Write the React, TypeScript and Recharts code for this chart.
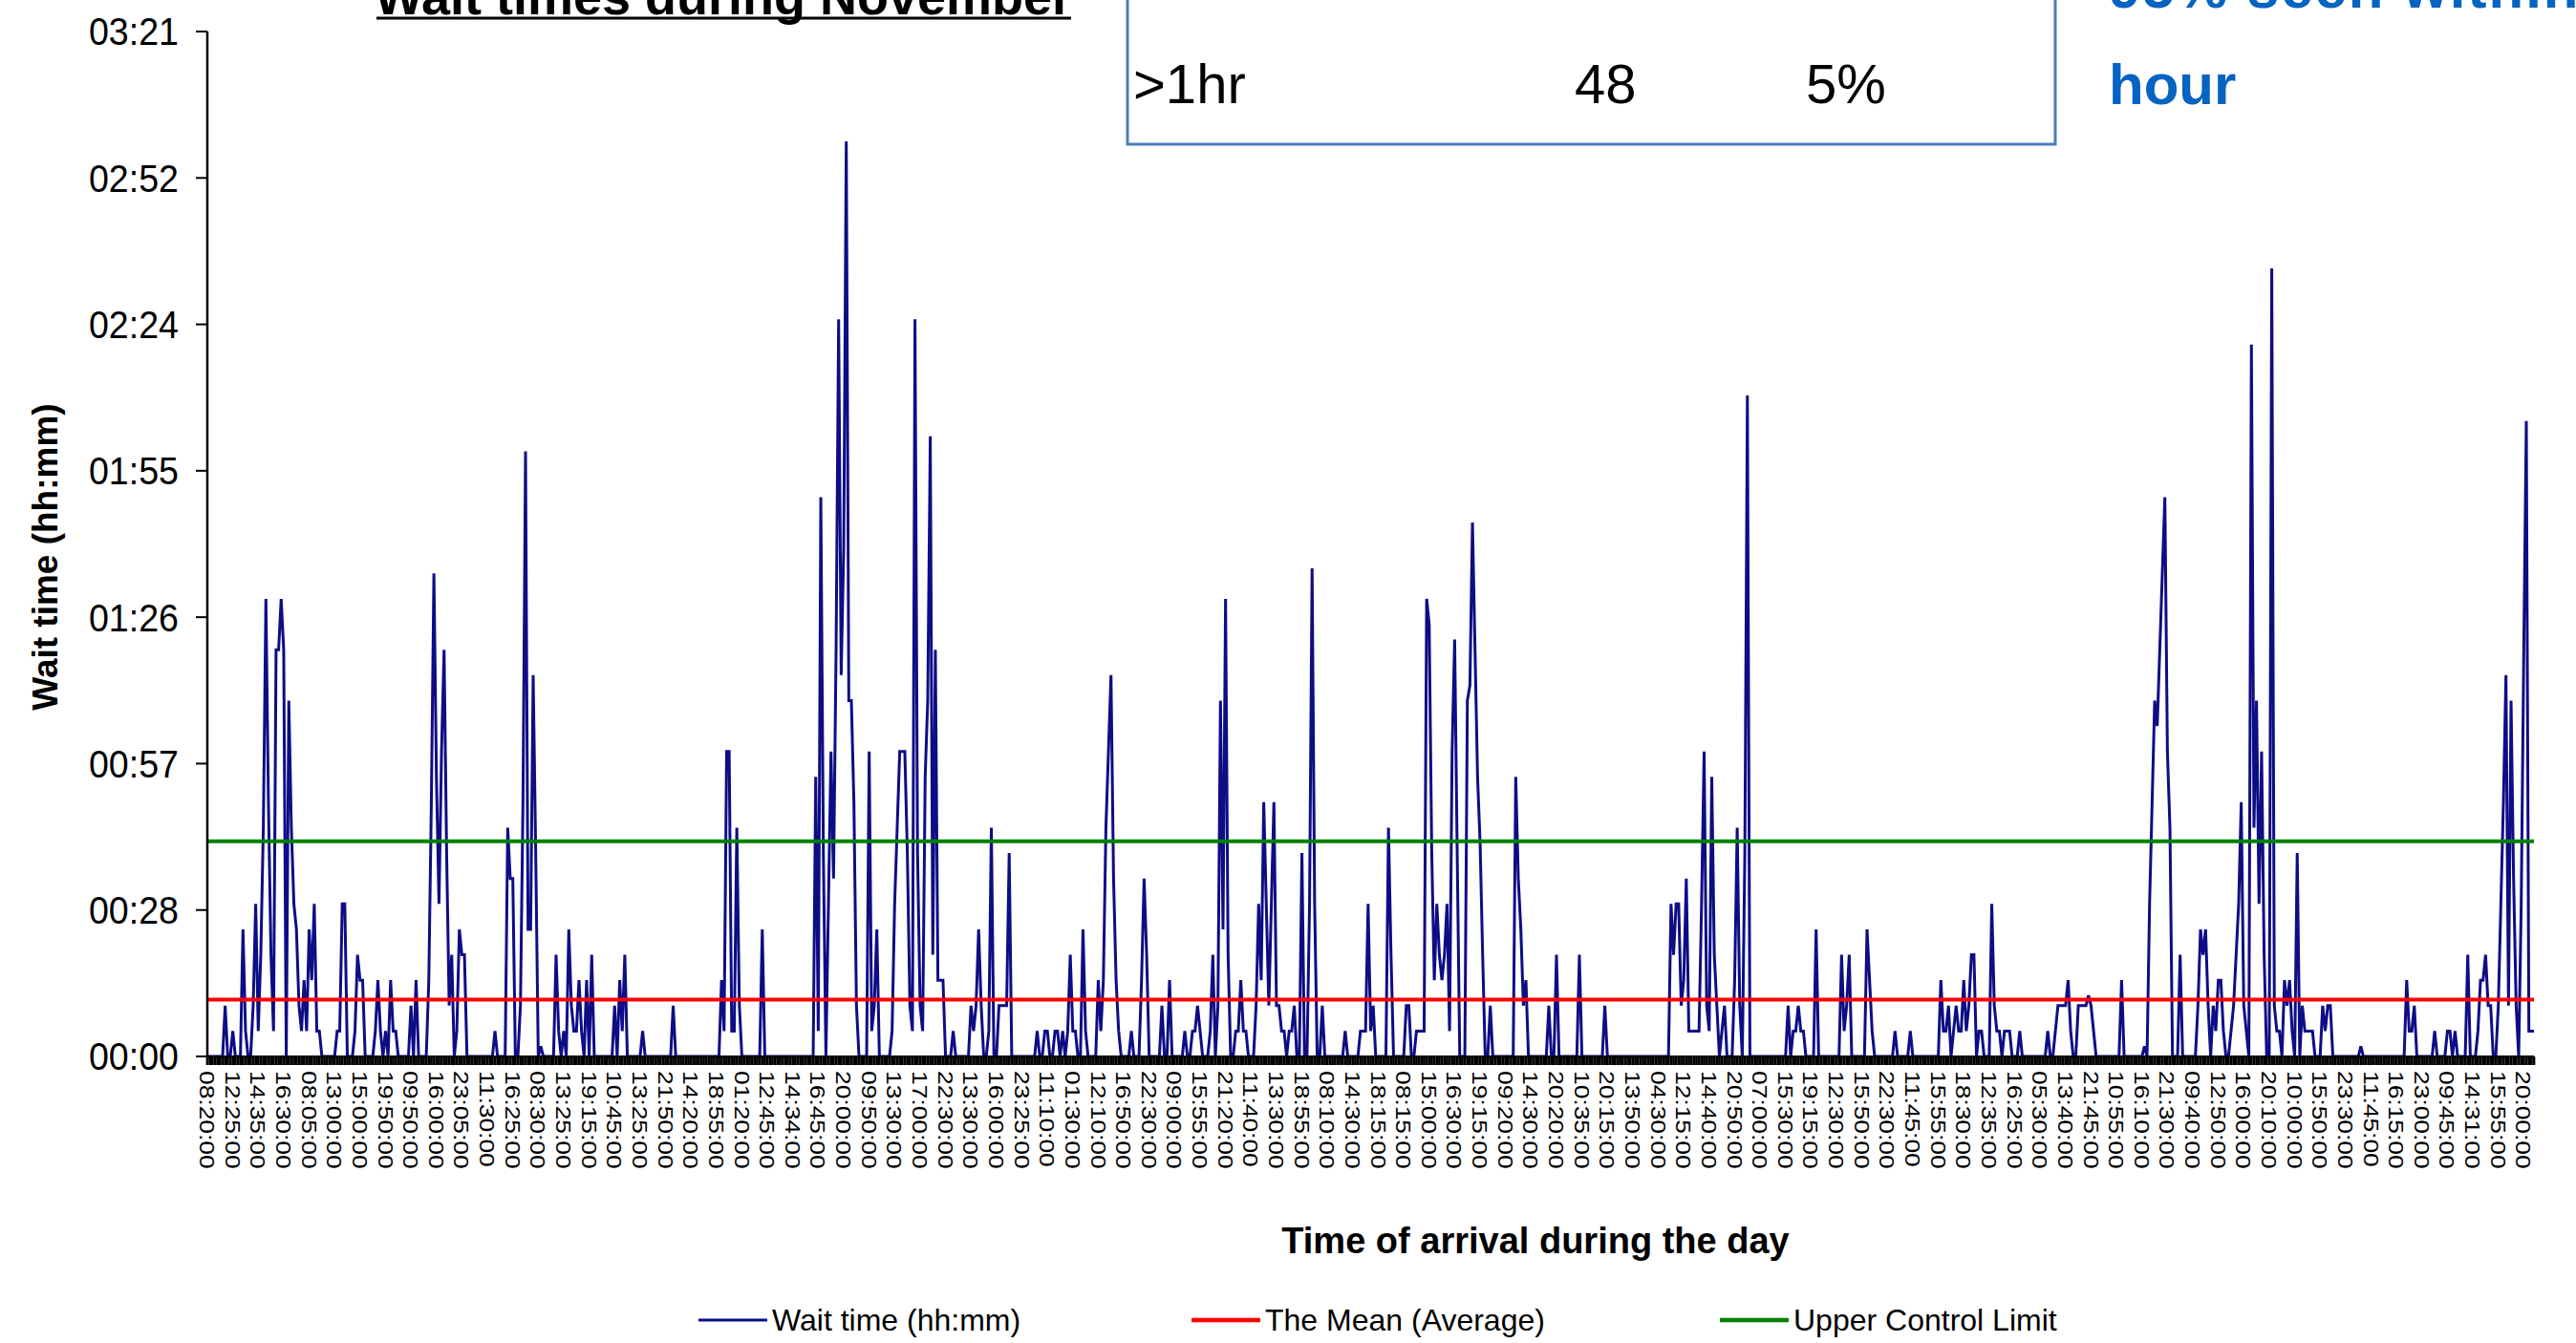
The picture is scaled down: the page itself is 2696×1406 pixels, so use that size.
import React from 'react';
import { LineChart, Line, XAxis, YAxis } from 'recharts';

// Wait time per arrival, in minutes (one value per arrival)
const WAIT_MINUTES: number[] = [
  0, 0, 0, 0, 0, 0, 0, 10, 0, 0,
  5, 0, 0, 0, 25, 5, 0, 0, 10, 30,
  5, 20, 45, 90, 50, 20, 5, 80, 80, 90,
  80, 0, 70, 45, 30, 25, 10, 5, 15, 5,
  25, 15, 30, 5, 5, 0, 0, 0, 0, 0,
  0, 5, 5, 30, 30, 0, 0, 0, 5, 20,
  15, 15, 0, 0, 0, 0, 5, 15, 5, 0,
  5, 0, 15, 5, 5, 0, 0, 0, 0, 0,
  10, 0, 15, 0, 0, 0, 0, 15, 50, 95,
  55, 30, 60, 80, 40, 10, 20, 0, 5, 25,
  20, 20, 0, 0, 0, 0, 0, 0, 0, 0,
  0, 0, 0, 5, 0, 0, 0, 0, 45, 35,
  35, 0, 0, 10, 50, 119, 25, 25, 75, 40,
  0, 2, 0, 0, 0, 0, 0, 20, 5, 0,
  5, 0, 25, 10, 5, 5, 15, 5, 0, 15,
  0, 20, 0, 0, 0, 0, 0, 0, 0, 0,
  10, 0, 15, 5, 20, 0, 0, 0, 0, 0,
  0, 5, 0, 0, 0, 0, 0, 0, 0, 0,
  0, 0, 0, 10, 0, 0, 0, 0, 0, 0,
  0, 0, 0, 0, 0, 0, 0, 0, 0, 0,
  0, 0, 15, 5, 60, 60, 5, 5, 45, 10,
  0, 0, 0, 0, 0, 0, 0, 0, 25, 0,
  0, 0, 0, 0, 0, 0, 0, 0, 0, 0,
  0, 0, 0, 0, 0, 0, 0, 0, 0, 55,
  5, 110, 40, 0, 30, 60, 35, 80, 145, 75,
  100, 180, 70, 70, 50, 10, 0, 0, 0, 0,
  60, 5, 10, 25, 0, 0, 0, 0, 0, 5,
  30, 45, 60, 60, 60, 40, 10, 5, 145, 40,
  10, 5, 55, 70, 122, 20, 80, 15, 15, 15,
  0, 0, 0, 5, 0, 0, 0, 0, 0, 0,
  10, 5, 10, 25, 10, 0, 0, 5, 45, 0,
  0, 10, 10, 10, 10, 40, 0, 0, 0, 0,
  0, 0, 0, 0, 0, 0, 5, 0, 0, 5,
  5, 0, 0, 5, 5, 0, 5, 0, 5, 20,
  5, 5, 0, 0, 25, 5, 0, 0, 0, 0,
  15, 5, 15, 45, 60, 75, 35, 15, 5, 0,
  0, 0, 0, 5, 0, 0, 0, 15, 35, 20,
  0, 0, 0, 0, 0, 10, 0, 0, 15, 0,
  0, 0, 0, 0, 5, 0, 0, 5, 5, 10,
  5, 0, 0, 0, 5, 20, 0, 10, 70, 25,
  90, 20, 0, 0, 5, 5, 15, 5, 5, 0,
  0, 0, 10, 30, 15, 50, 30, 10, 30, 50,
  10, 10, 5, 5, 0, 5, 5, 10, 0, 0,
  40, 0, 0, 30, 96, 30, 0, 0, 10, 0,
  0, 0, 0, 0, 0, 0, 0, 5, 0, 0,
  0, 0, 0, 5, 5, 5, 30, 5, 10, 0,
  0, 0, 0, 0, 45, 20, 0, 0, 0, 0,
  0, 10, 10, 0, 0, 5, 5, 5, 5, 90,
  85, 40, 15, 30, 20, 15, 20, 30, 5, 60,
  82, 40, 0, 0, 0, 70, 73, 105, 80, 55,
  42, 20, 0, 0, 10, 0, 0, 0, 0, 0,
  0, 0, 0, 0, 55, 35, 25, 10, 15, 0,
  0, 0, 0, 0, 0, 0, 0, 10, 0, 0,
  20, 0, 0, 0, 0, 0, 0, 0, 0, 20,
  0, 0, 0, 0, 0, 0, 0, 0, 0, 10,
  0, 0, 0, 0, 0, 0, 0, 0, 0, 0,
  0, 0, 0, 0, 0, 0, 0, 0, 0, 0,
  0, 0, 0, 0, 0, 30, 20, 30, 30, 10,
  15, 35, 5, 5, 5, 5, 5, 30, 60, 10,
  5, 55, 20, 10, 0, 5, 10, 0, 0, 0,
  15, 45, 10, 0, 40, 130, 0, 0, 0, 0,
  0, 0, 0, 0, 0, 0, 0, 0, 0, 0,
  0, 10, 0, 5, 5, 10, 5, 5, 0, 0,
  0, 0, 25, 0, 0, 0, 0, 0, 0, 0,
  0, 0, 20, 5, 10, 20, 0, 0, 0, 0,
  0, 0, 25, 15, 5, 0, 0, 0, 0, 0,
  0, 0, 0, 5, 0, 0, 0, 0, 0, 5,
  0, 0, 0, 0, 0, 0, 0, 0, 0, 0,
  0, 15, 5, 5, 10, 0, 5, 10, 5, 5,
  15, 5, 10, 20, 20, 0, 5, 5, 0, 0,
  0, 30, 10, 5, 5, 0, 5, 5, 5, 0,
  0, 0, 5, 0, 0, 0, 0, 0, 0, 0,
  0, 0, 0, 5, 0, 0, 5, 10, 10, 10,
  10, 15, 5, 0, 0, 10, 10, 10, 10, 12,
  10, 5, 0, 0, 0, 0, 0, 0, 0, 0,
  0, 0, 15, 0, 0, 0, 0, 0, 0, 0,
  0, 2, 0, 30, 50, 70, 65, 80, 95, 110,
  60, 45, 0, 0, 0, 20, 0, 0, 0, 0,
  0, 0, 10, 25, 20, 25, 10, 0, 10, 5,
  15, 15, 5, 0, 0, 5, 10, 20, 30, 50,
  10, 5, 0, 140, 45, 70, 30, 60, 20, 0,
  0, 155, 10, 5, 5, 0, 15, 10, 15, 5,
  0, 40, 0, 10, 5, 5, 5, 5, 0, 0,
  0, 10, 5, 10, 10, 0, 0, 0, 0, 0,
  0, 0, 0, 0, 0, 0, 2, 0, 0, 0,
  0, 0, 0, 0, 0, 0, 0, 0, 0, 0,
  0, 0, 0, 0, 15, 5, 5, 10, 0, 0,
  0, 0, 0, 0, 0, 5, 0, 0, 0, 0,
  5, 5, 0, 5, 0, 0, 0, 0, 20, 0,
  0, 0, 5, 15, 15, 20, 10, 10, 0, 0,
  10, 30, 50, 75, 10, 70, 35, 10, 0, 30,
  80, 125, 5, 5, 5,
];

// Arrival-time labels shown on the category axis (one every LABEL_STEP arrivals)
const ARRIVAL_LABELS: string[] = [
  '08:20:00', '12:25:00', '14:35:00', '16:30:00', '08:05:00', '13:00:00', '15:00:00', '19:50:00',
  '09:50:00', '16:00:00', '23:05:00', '11:30:00', '16:25:00', '08:30:00', '13:25:00', '19:15:00',
  '10:45:00', '13:25:00', '21:50:00', '14:20:00', '18:55:00', '01:20:00', '12:45:00', '14:34:00',
  '16:45:00', '20:00:00', '09:50:00', '13:30:00', '17:00:00', '22:30:00', '13:30:00', '16:00:00',
  '23:25:00', '11:10:00', '01:30:00', '12:10:00', '16:50:00', '22:30:00', '09:00:00', '15:55:00',
  '21:20:00', '11:40:00', '13:30:00', '18:55:00', '08:10:00', '14:30:00', '18:15:00', '08:15:00',
  '15:00:00', '16:30:00', '19:15:00', '09:20:00', '14:30:00', '20:20:00', '10:35:00', '20:15:00',
  '13:50:00', '04:30:00', '12:15:00', '14:40:00', '20:50:00', '07:00:00', '15:30:00', '19:15:00',
  '12:30:00', '15:50:00', '22:30:00', '11:45:00', '15:55:00', '18:30:00', '12:35:00', '16:25:00',
  '05:30:00', '13:40:00', '21:45:00', '10:55:00', '16:10:00', '21:30:00', '09:40:00', '12:50:00',
  '16:00:00', '20:10:00', '10:00:00', '15:50:00', '23:30:00', '11:45:00', '16:15:00', '23:00:00',
  '09:45:00', '14:31:00', '15:55:00', '20:00:00',
];
const LABEL_STEP = 10;

const MEAN_MINUTES = 11.2;
const UCL_MINUTES = 42.3;

// y ticks every 0.02 day (28.8 min)
const Y_TICKS: number[] = [0, 28.8, 57.6, 86.4, 115.2, 144, 172.8, 201.6];

const SERIES_NAMES: string[] = ['Wait time (hh:mm)', 'The Mean (Average)', 'Upper Control Limit'];
const SERIES_COLORS: string[] = ['#0d0d86', '#ff0000', '#008000'];

const BOX_ROW: string[] = ['>1hr', '48', '5%'];

const rows = WAIT_MINUTES.map((wait, idx) => ({ idx, wait, mean: MEAN_MINUTES, ucl: UCL_MINUTES }));

const FONT = "'Liberation Sans', Arial, sans-serif";

function toHHMM(min: number): string {
  const t = Math.floor(min + 1e-6);
  const h = Math.floor(t / 60);
  const m = t % 60;
  return `${String(h).padStart(2, '0')}:${String(m).padStart(2, '0')}`;
}

const XTick = (props: any) => {
  const { x, y, payload } = props;
  const i = Number(payload && payload.value);
  if (!Number.isFinite(i) || i % LABEL_STEP !== 0) return <g />;
  const label = ARRIVAL_LABELS[i / LABEL_STEP];
  if (!label) return <g />;
  return (
    <text
      transform={`translate(${x},${y}) rotate(90) scale(1.2,1)`}
      x={0}
      y={0}
      dy="0.36em"
      textAnchor="start"
      fontSize={22}
      fontFamily={FONT}
      fill="#000"
    >
      {label}
    </text>
  );
};

const YTick = (props: any) => {
  const { x, y, payload } = props;
  return (
    <text
      transform={`translate(${x},${y}) scale(0.94,1)`}
      x={0}
      y={0}
      dy="0.36em"
      textAnchor="end"
      fontSize={40}
      fontFamily={FONT}
      fill="#000"
    >
      {toHHMM(Number(payload.value))}
    </text>
  );
};

export default function App() {
  const legendX = [731, 1247, 1800];
  return (
    <div style={{ position: 'absolute', left: 0, top: 0, width: 2696, height: 1406, background: '#fff', overflow: 'hidden' }}>
      <LineChart width={2696} height={1406} data={rows} margin={{ top: 33, right: 44, bottom: 150, left: 0 }}>
        <XAxis
          dataKey="idx"
          type="category"
          interval={0}
          height={150}
          tickSize={9}
          tickMargin={6}
          tick={XTick}
          tickLine={{ stroke: '#000', strokeWidth: 2.7 }}
          axisLine={{ stroke: '#000', strokeWidth: 2 }}
        />
        <YAxis
          type="number"
          domain={[0, 201.6]}
          ticks={Y_TICKS}
          width={217}
          tickSize={12}
          tickMargin={18}
          tick={YTick}
          axisLine={{ stroke: '#000', strokeWidth: 2.5 }}
          tickLine={{ stroke: '#000', strokeWidth: 2 }}
        />
        <Line type="linear" dataKey="wait" name={SERIES_NAMES[0]} stroke={SERIES_COLORS[0]} strokeWidth={3} dot={false} isAnimationActive={false} />
        <Line type="linear" dataKey="mean" name={SERIES_NAMES[1]} stroke={SERIES_COLORS[1]} strokeWidth={4} dot={false} isAnimationActive={false} />
        <Line type="linear" dataKey="ucl" name={SERIES_NAMES[2]} stroke={SERIES_COLORS[2]} strokeWidth={4} dot={false} isAnimationActive={false} />
      </LineChart>

      <svg style={{ position: 'absolute', left: 0, top: 0 }} width={2696} height={1406} fontFamily={FONT}>
        {/* chart title (its top is cut off by the page edge, as in the source) */}
        <text x={757} y={15} textAnchor="middle" fontSize={54} fontWeight="bold" fill="#000">
          Wait times during November
        </text>
        <line x1={394} x2={1121} y1={19} y2={19} stroke="#000" strokeWidth={3} />

        {/* summary box */}
        <rect x={1180} y={-10} width={971} height={161} fill="#fff" stroke="#4a7ebb" strokeWidth={3} />
        <text x={1186} y={108} fontSize={58} fill="#000">{BOX_ROW[0]}</text>
        <text x={1648} y={108} fontSize={58} fill="#000">{BOX_ROW[1]}</text>
        <text x={1890} y={108} fontSize={58} fill="#000">{BOX_ROW[2]}</text>

        {/* blue note */}
        <text x={2207} y={8} fontSize={60} fontWeight="bold" letterSpacing={2} fill="#0563c1">95% seen within 1</text>
        <text x={2207} y={109} fontSize={60} fontWeight="bold" fill="#0563c1">hour</text>

        {/* y axis title */}
        <text transform="translate(60,583) rotate(-90)" textAnchor="middle" fontSize={37} fontWeight="bold" fill="#000">
          Wait time (hh:mm)
        </text>

        {/* x axis title */}
        <text x={1607} y={1312} textAnchor="middle" fontSize={38} fontWeight="bold" fill="#000">
          Time of arrival during the day
        </text>

        {/* legend */}
        {SERIES_NAMES.map((name, k) => (
          <g key={name}>
            <line x1={legendX[k]} x2={legendX[k] + 72} y1={1382} y2={1382} stroke={SERIES_COLORS[k]} strokeWidth={k === 0 ? 3 : 4.5} />
            <text x={legendX[k] + 77} y={1393} fontSize={32} fill="#000">{name}</text>
          </g>
        ))}
      </svg>
    </div>
  );
}
